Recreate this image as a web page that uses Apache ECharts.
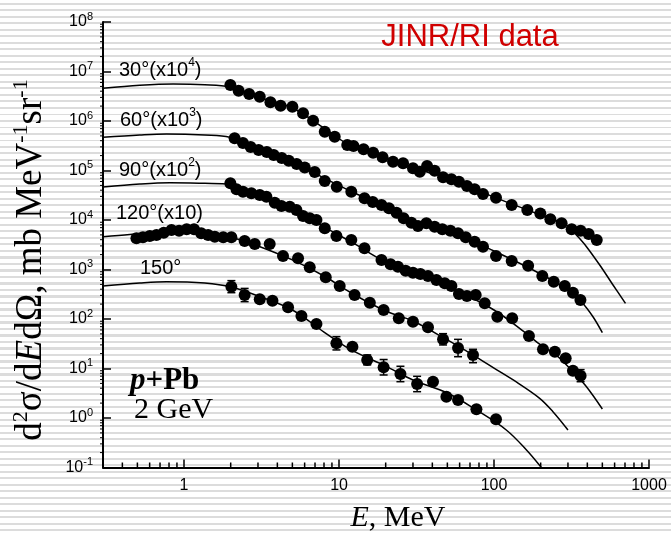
<!DOCTYPE html>
<html>
<head>
<meta charset="utf-8">
<script src="https://cdn.jsdelivr.net/npm/echarts@6/dist/echarts.min.js"></script>
<style>
  html, body { margin: 0; padding: 0; }
  body {
    width: 671px;
    height: 535px;
    background: repeating-linear-gradient(to bottom, #fff 0px, #fff 3px, #dcdcdc 3px, #dcdcdc 5px, #fff 5px, #fff 6.5px);
  }
  #chart { width: 671px; height: 535px; }
</style>
</head>
<body>
<div id="chart"></div>
<script>
// measured points, E in MeV
const e30 = [1.99, 2.25, 2.63, 3.08, 3.61, 4.20, 5.00, 5.86, 6.80, 8.09, 9.38, 11.3, 12.4, 14.4, 16.6, 19.1, 22.3, 25.9, 30.0, 33.2, 37.0, 41.4, 46.9, 53.1, 59.4, 66.9, 75.0, 84.9, 103, 130, 164, 199, 231, 273, 317, 362, 408, 460]
const v30 = [5.33e6, 4.09e6, 3.51e6, 3.10e6, 2.39e6, 2.04e6, 1.95e6, 1.43e6, 1.01e6, 6.08e5, 4.82e5, 3.27e5, 3.13e5, 2.68e5, 2.29e5, 1.85e5, 1.51e5, 1.40e5, 1.11e5, 9.46e4, 1.23e5, 9.91e4, 7.29e4, 6.64e4, 5.94e4, 4.86e4, 4.17e4, 3.35e4, 2.82e4, 2.01e4, 1.59e4, 1.36e4, 1.03e4, 8.57e3, 6.48e3, 6.08e3, 5.21e3, 3.94e3]

const e60 = [2.12, 2.40, 2.69, 3.03, 3.42, 3.79, 4.27, 4.74, 5.33, 6.01, 6.97, 8.09, 9.67, 12.0, 14.6, 16.5, 18.8, 21.0, 23.5, 26.1, 29.3, 32.3, 36.6, 41.4, 46.4, 52.3, 58.6, 65.7, 75.0, 84.9, 103, 130, 166, 205, 243, 286, 323, 361]
const v60 = [4.48e5, 3.60e5, 2.99e5, 2.60e5, 2.36e5, 2.06e5, 1.79e5, 1.58e5, 1.35e5, 1.15e5, 9.33e4, 6.14e4, 4.71e4, 3.73e4, 2.74e4, 2.31e4, 2.01e4, 1.72e4, 1.40e4, 1.08e4, 8.81e3, 7.56e3, 8.57e3, 7.32e3, 6.49e3, 6.08e3, 5.39e3, 4.47e3, 3.65e3, 2.89e3, 1.88e3, 1.49e3, 1.19e3, 740, 568, 464, 340, 242]

const e90 = [1.99, 2.18, 2.40, 2.72, 3.08, 3.40, 3.85, 4.25, 4.81, 5.31, 5.86, 6.47, 7.15, 8.09, 9.62, 12.0, 14.6, 18.8, 21.5, 24.0, 26.9, 30.0, 33.5, 37.5, 42.5, 48.1, 53.1, 59.4, 66.9, 76.2, 87.1, 105, 131, 168, 207, 247, 290, 323, 362]
const v90 = [5.51e4, 4.17e4, 3.73e4, 3.46e4, 3.20e4, 2.96e4, 2.24e4, 1.92e4, 1.86e4, 1.59e4, 1.21e4, 1.08e4, 1.0e4, 6.79e3, 4.75e3, 3.95e3, 2.68e3, 1.56e3, 1.27e3, 1.14e3, 946, 861, 811, 740, 614, 526, 464, 320, 292, 305, 207, 111, 103, 45.4, 24.4, 21.8, 16.1, 9.04, 7.16]

const e120 = [0.493, 0.543, 0.601, 0.664, 0.740, 0.830, 0.929, 1.04, 1.16, 1.29, 1.43, 1.58, 1.79, 2.02, 2.46, 2.86, 3.57, 4.35, 5.44, 6.47, 8.21, 10.1, 12.6, 15.8, 19.4, 24.3, 30.0, 37.5, 46.9, 58.6, 73.2]
const v120 = [4.27e3, 4.48e3, 4.75e3, 4.98e3, 5.53e3, 6.28e3, 6.08e3, 6.49e3, 6.49e3, 5.39e3, 4.98e3, 4.60e3, 4.48e3, 4.48e3, 3.77e3, 3.28e3, 3.28e3, 1.88e3, 1.68e3, 1.11e3, 695, 464, 305, 213, 152, 103, 88.2, 67.9, 38.9, 25.9, 18.7]

const e150 = [2.02, 2.46, 3.08, 3.72, 4.69, 5.72, 7.15, 9.62, 12.2, 15.2, 19.4, 24.9, 31.9, 40.4, 49.3, 58.6, 77.0, 103]
const v150 = [450, 305, 250, 234, 172, 115, 79.2, 32.3, 27.6, 14.9, 10.6, 7.74, 4.86, 5.41, 2.69, 2.31, 1.50, 0.94]

// error bars that show past the markers
const errE = [2.02, 2.46, 9.62, 15.2, 19.4, 24.9, 31.9, 46.9, 58.6, 73.2, 362]
const errLo = [340, 224, 23.7, 11.8, 7.4, 5.41, 3.4, 29.9, 17.3, 13.1, 5.41]
const errHi = [596, 415, 44, 18.8, 15.2, 11.1, 6.95, 50.6, 38.8, 24.4, 9.5]

// model curves
const c30e = [0.3, 0.518, 0.85, 1.36, 1.97, 3, 5, 8, 12, 20, 30, 50, 100, 200, 300, 340, 395, 481, 586, 705]
const c30v = [4.58e6, 5.26e6, 5.59e6, 5.41e6, 4.86e6, 3.05e6, 1.83e6, 7.2e5, 3.1e5, 1.8e5, 1.12e5, 7.1e4, 2.9e4, 1.26e4, 7.6e3, 4.98e3, 2.89e3, 1.23e3, 486, 207]
const c60e = [0.3, 0.518, 0.77, 1.36, 1.97, 3, 5, 8, 12, 20, 30, 50, 100, 200, 300, 366, 435, 500]
const c60v = [4.69e5, 5.21e5, 5.46e5, 5.21e5, 4.69e5, 2.72e5, 1.49e5, 7.05e4, 3.77e4, 1.83e4, 9.2e3, 6.14e3, 2.36e3, 811, 385, 223, 111, 52.8]
const c90e = [0.3, 0.518, 0.81, 1.36, 1.97, 3, 5, 8, 12, 20, 30, 50, 100, 160, 200, 250, 323, 395, 500]
const c90v = [4.64e4, 5.34e4, 5.67e4, 5.51e4, 5.3e4, 3.35e4, 1.75e4, 7.23e3, 3.6e3, 1.42e3, 889, 464, 152, 52, 29.9, 19, 8.61, 4.29, 1.52]
const c120e = [0.3, 0.447, 0.70, 1.09, 1.58, 2.0, 3, 5, 8, 12, 20, 30, 50, 73.2, 100, 133, 197, 240, 300]
const c120v = [4.6e3, 5.09e3, 6.0e3, 6.28e3, 5.46e3, 4.54e3, 2.99e3, 1.56e3, 740, 335, 145, 91.2, 37.7, 18.7, 10.2, 5.86, 2.5, 1.34, 0.573]
const c150e = [0.3, 0.518, 0.77, 1.36, 2.02, 3, 5, 8, 12, 20, 30, 50, 77, 120, 162, 202]
const c150v = [464, 534, 568, 534, 443, 292, 152, 54.6, 23.7, 11.2, 5.86, 3.2, 1.45, 0.573, 0.226, 0.1]

const X_MIN = 0.3, X_MAX = 1000
const Y_MIN = 0.1, Y_MAX = 1e8

const pairs = (xs, ys) => xs.map((x, i) => [x, ys[i]])

// log minor tick positions (2..9 in each decade)
const xMinor = []
for (let k = -1; k <= 2; k++) {
  for (let m = 2; m <= 9; m++) {
    const v = m * Math.pow(10, k)
    if (v > X_MIN && v < X_MAX) xMinor.push([v, Y_MIN])
  }
}
const yMinor = []
for (let k = -1; k <= 7; k++) {
  for (let m = 2; m <= 9; m++) yMinor.push([X_MIN, m * Math.pow(10, k)])
}

const serif = '"Liberation Serif", "Times New Roman", serif'
const sans = '"Liberation Sans", Arial, sans-serif'

const curve = (xs, ys) => ({
  type: 'line',
  data: pairs(xs, ys),
  smooth: 0.35,
  showSymbol: false,
  symbol: 'none',
  lineStyle: { color: '#000', width: 1.5 },
  z: 2
})

const points = (xs, ys) => ({
  type: 'scatter',
  data: pairs(xs, ys),
  symbol: 'circle',
  symbolSize: 12,
  itemStyle: { color: '#000', opacity: 1 },
  z: 4
})

const chart = echarts.init(document.getElementById('chart'))

const angleLabel = (x, y, text) => ({
  type: 'text',
  x: x,
  y: y,
  style: {
    text: text,
    fill: '#000',
    font: '20px ' + sans,
    align: 'left',
    verticalAlign: 'middle',
    rich: {
      s: { fontSize: 12, fontFamily: sans, fill: '#000', verticalAlign: 'top', lineHeight: 26 }
    }
  }
})

chart.setOption({
  backgroundColor: 'transparent',
  animation: false,
  grid: { left: 103, right: 22, top: 22, bottom: 67.5, containLabel: false },
  xAxis: {
    type: 'log',
    logBase: 10,
    min: X_MIN,
    max: X_MAX,
    axisLine: { lineStyle: { color: '#000', width: 2 } },
    axisTick: { inside: true, length: 8, lineStyle: { color: '#000', width: 1.5 } },
    axisLabel: {
      color: '#000',
      fontSize: 16,
      fontFamily: sans,
      margin: 10,
      formatter: (v) => {
        const l = Math.log10(v)
        return Math.abs(l - Math.round(l)) < 1e-6 ? String(Math.round(v)) : ''
      }
    },
    splitLine: { show: false }
  },
  yAxis: {
    type: 'log',
    logBase: 10,
    min: Y_MIN,
    max: Y_MAX,
    axisLine: { lineStyle: { color: '#000', width: 2 } },
    axisTick: { inside: true, length: 8, lineStyle: { color: '#000', width: 1.5 } },
    axisLabel: {
      color: '#000',
      fontSize: 16,
      fontFamily: sans,
      margin: 10,
      formatter: (v) => '10{s|' + Math.round(Math.log10(v)) + '}',
      rich: {
        s: { fontSize: 11, fontFamily: sans, color: '#000', verticalAlign: 'top', lineHeight: 22 }
      }
    },
    splitLine: { show: false }
  },
  graphic: [
    {
      type: 'text', x: 470, y: 37,
      style: { text: 'JINR/RI data', fill: '#d00000', font: '31px ' + sans, align: 'center', verticalAlign: 'middle' }
    },
    angleLabel(119, 70, '30°(x10{s|4})'),
    angleLabel(120, 120, '60°(x10{s|3})'),
    angleLabel(119, 170, '90°(x10{s|2})'),
    angleLabel(116, 213, '120°(x10)'),
    angleLabel(140, 268, '150°'),
    {
      type: 'text', x: 130, y: 381,
      style: {
        text: '{bi|p}{b|+Pb}', align: 'left', verticalAlign: 'middle',
        rich: {
          bi: { font: 'italic bold 31px ' + serif, fill: '#000' },
          b: { font: 'bold 31px ' + serif, fill: '#000' }
        }
      }
    },
    {
      type: 'text', x: 134, y: 410,
      style: { text: '2 GeV', fill: '#000', font: '30px ' + serif, align: 'left', verticalAlign: 'middle' }
    },
    {
      type: 'text', x: 398, y: 518,
      style: {
        text: '{i|E}, MeV', fill: '#000', font: '30px ' + serif, align: 'center', verticalAlign: 'middle',
        rich: { i: { font: 'italic 30px ' + serif, fill: '#000' } }
      }
    },
    {
      type: 'text', x: 31, y: 260, rotation: Math.PI / 2,
      style: {
        text: 'd{s|2}σ/d{i|E}dΩ, mb MeV{s|-1}sr{s|-1}', fill: '#000', font: '37px ' + serif,
        align: 'center', verticalAlign: 'middle',
        rich: {
          s: { font: '22px ' + serif, fill: '#000', verticalAlign: 'top', lineHeight: 42 },
          i: { font: 'italic 37px ' + serif, fill: '#000', lineHeight: 42 }
        }
      }
    }
  ],
  series: [
    curve(c30e, c30v),
    curve(c60e, c60v),
    curve(c90e, c90v),
    curve(c120e, c120v),
    curve(c150e, c150v),
    {
      type: 'custom',
      data: errE.map((x, i) => [x, errLo[i], errHi[i]]),
      encode: { x: 0, y: [1, 2] },
      clip: false,
      z: 3,
      renderItem: (params, api) => {
        const lo = api.coord([api.value(0), api.value(1)])
        const hi = api.coord([api.value(0), api.value(2)])
        const w = 4
        const st = { stroke: '#000', lineWidth: 1.5 }
        return {
          type: 'group',
          children: [
            { type: 'line', shape: { x1: lo[0], y1: lo[1], x2: hi[0], y2: hi[1] }, style: st },
            { type: 'line', shape: { x1: lo[0] - w, y1: lo[1], x2: lo[0] + w, y2: lo[1] }, style: st },
            { type: 'line', shape: { x1: hi[0] - w, y1: hi[1], x2: hi[0] + w, y2: hi[1] }, style: st }
          ]
        }
      }
    },
    points(e30, v30),
    points(e60, v60),
    points(e90, v90),
    points(e120, v120),
    points(e150, v150),
    {
      // minor ticks on the energy axis
      type: 'custom',
      data: xMinor,
      clip: false,
      silent: true,
      renderItem: (params, api) => {
        const p = api.coord([api.value(0), api.value(1)])
        return { type: 'line', shape: { x1: p[0], y1: p[1], x2: p[0], y2: p[1] - 5 }, style: { stroke: '#000', lineWidth: 1.5 } }
      }
    },
    {
      // minor ticks on the cross section axis
      type: 'custom',
      data: yMinor,
      clip: false,
      silent: true,
      renderItem: (params, api) => {
        const p = api.coord([api.value(0), api.value(1)])
        return { type: 'line', shape: { x1: p[0] - 3, y1: p[1], x2: p[0], y2: p[1] }, style: { stroke: '#000', lineWidth: 1 } }
      }
    }
  ]
})
</script>
</body>
</html>
